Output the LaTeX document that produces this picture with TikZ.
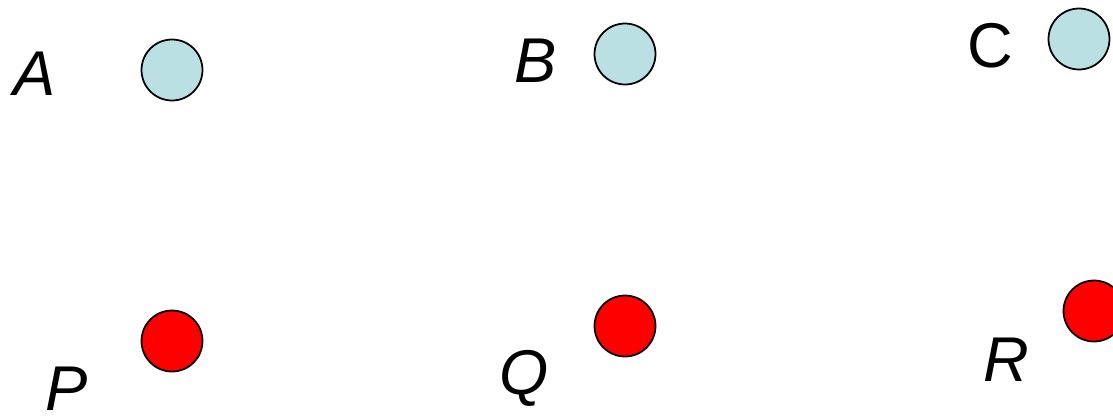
\documentclass[tikz,border=0pt]{standalone}
\usepackage{fontspec}
\setmainfont{Liberation Sans}
\usepackage{tikz}
\usetikzlibrary{positioning}
\definecolor{paleblue}{HTML}{BBE0E3}
\definecolor{hotred}{HTML}{FF0000}
\tikzset{
  dot/.style={circle, draw=black, line width=1pt, fill=#1, inner sep=0pt,
              minimum size=1.22cm},
  lbl/.style={inner sep=0pt, anchor=base, font=\fontsize{36}{40}\selectfont\itshape},
}

\begin{document}
\begin{tikzpicture}[x=0.02cm, y=-0.02cm]
    \clip (0,0) rectangle (1113,416);
    % upper row
    \node[dot=paleblue] (dotA) at (172,70) {};
    \node[dot=paleblue] (dotB) at (625,54) {};
    \node[dot=paleblue] (dotC) at (1079,39) {};
    \node[lbl] (A) at (35,95) {A};
    \node[lbl] (B) at (536,82) {B};
    \node[lbl, font=\fontsize{36}{40}\selectfont] (C) at (990,67) {C};
    % lower row
    \node[dot=hotred] (dotP) at (172,341) {};
    \node[dot=hotred] (dotQ) at (625,326) {};
    \node[dot=hotred] (dotR) at (1094,311) {};
    \node[lbl] (P) at (67,410) {P};
    \node[lbl] (Q) at (524,394) {Q};
    \node[lbl] (R) at (1006,381) {R};
  \end{tikzpicture}
\end{document}
